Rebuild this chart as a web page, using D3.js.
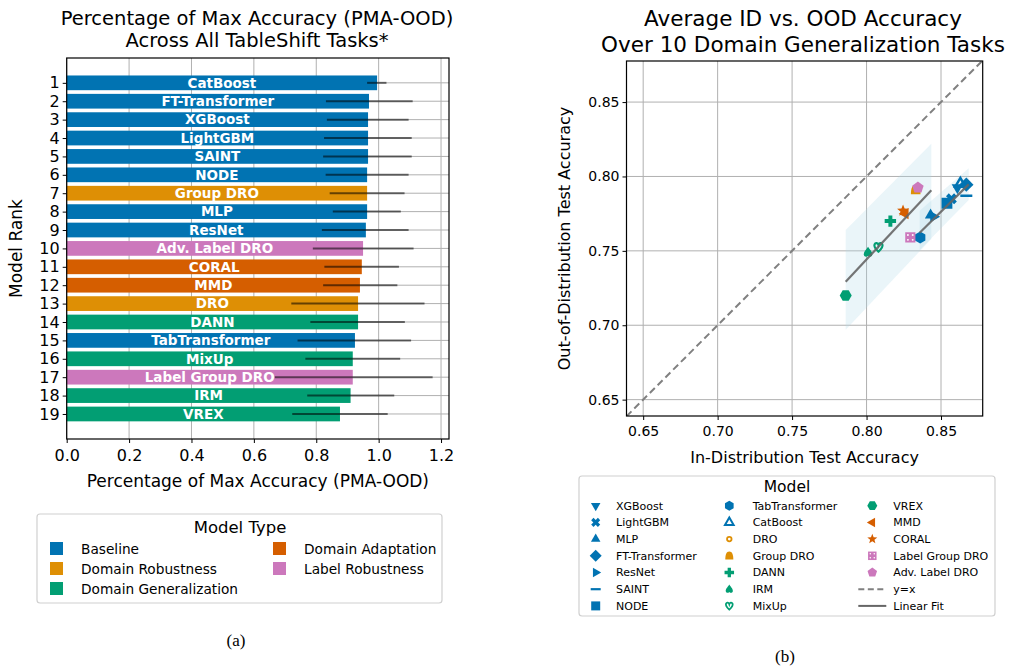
<!DOCTYPE html>
<html><head><meta charset="utf-8">
<script src="https://cdn.jsdelivr.net/npm/d3@7"></script>
<style>body{margin:0;background:#fff}svg{display:block;font-family:"DejaVu Sans",sans-serif}</style>
</head><body><svg id="c" width="1020" height="669"></svg>
<script>
// ---------- data: panel (a) ----------
const barModels = ["CatBoost","FT-Transformer","XGBoost","LightGBM","SAINT","NODE","Group DRO","MLP","ResNet","Adv. Label DRO","CORAL","MMD","DRO","DANN","TabTransformer","MixUp","Label Group DRO","IRM","VREX"];
const barTypes = ["Baseline","Baseline","Baseline","Baseline","Baseline","Baseline","Domain Robustness","Baseline","Baseline","Label Robustness","Domain Adaptation","Domain Adaptation","Domain Robustness","Domain Generalization","Baseline","Domain Generalization","Label Robustness","Domain Generalization","Domain Generalization"];
const barValues = [0.995,0.969,0.966,0.966,0.966,0.963,0.963,0.963,0.959,0.950,0.946,0.940,0.934,0.934,0.924,0.917,0.917,0.910,0.876];
const errLow  = [0.963,0.831,0.834,0.825,0.822,0.830,0.843,0.853,0.818,0.789,0.826,0.822,0.720,0.781,0.740,0.765,0.667,0.771,0.723];
const errHigh = [1.025,1.109,1.096,1.106,1.106,1.096,1.083,1.071,1.096,1.112,1.065,1.060,1.147,1.084,1.104,1.069,1.173,1.050,1.029];
const xTicksA = [0.0,0.2,0.4,0.6,0.8,1.0,1.2];
const typeNames = ["Baseline","Domain Robustness","Domain Generalization","Domain Adaptation","Label Robustness"];
const typeColors = ["#0173b2","#de8f05","#029e73","#d55e00","#cc78bc"];

// ---------- data: panel (b) ----------
const ptModels = ["XGBoost","LightGBM","MLP","FT-Transformer","ResNet","SAINT","NODE","TabTransformer","CatBoost","DRO","Group DRO","DANN","IRM","MixUp","VREX","MMD","CORAL","Label Group DRO","Adv. Label DRO"];
const ptTypes = ["Baseline","Baseline","Baseline","Baseline","Baseline","Baseline","Baseline","Baseline","Baseline","Domain Robustness","Domain Robustness","Domain Generalization","Domain Generalization","Domain Generalization","Domain Generalization","Domain Adaptation","Domain Adaptation","Label Robustness","Label Robustness"];
const ptMarkers = ["tdown","x","tup","diamond","tright","hline","square","hexp","delta","ring","bell","plus","spade","heart","hexf","tleft","star","boxdot","pentagon"];
const idAcc  = [0.861,0.857,0.843,0.867,0.845,0.867,0.854,0.836,0.863,0.833,0.833,0.816,0.801,0.808,0.786,0.826,0.8245,0.8294,0.8345];
const oodAcc = [0.7925,0.785,0.774,0.7945,0.773,0.787,0.782,0.759,0.795,0.791,0.791,0.770,0.749,0.7525,0.720,0.775,0.777,0.759,0.7925];
const fitA = {x:[0.786,0.8435], y:[0.7293,0.7907], lo:[0.697,0.758], hi:[0.764,0.822]};
const fitB = {x:[0.8357,0.8686], y:[0.7622,0.7947], lo:[0.7505,0.7842], hi:[0.777,0.8056]};
const ticksB = [0.65,0.70,0.75,0.80,0.85];

const svg = d3.select("#c");
const colorOf = d3.scaleOrdinal().domain(typeNames).range(typeColors);
const gridC = "#b0b0b0";

// ================= Panel (a) =================
const A = {l:66.7, r:449, t:58, b:439};
const xa = d3.scaleLinear().domain([0,1.2255]).range([A.l,A.r]);
const ya = d3.scaleLinear().domain([1-1.35,19+1.36]).range([A.t,A.b]);
const ga = svg.append("g");
ga.selectAll(".gv").data(xTicksA).join("line").attr("x1",d=>xa(d)).attr("x2",d=>xa(d)).attr("y1",A.t).attr("y2",A.b).attr("stroke",gridC).attr("stroke-width",1);
ga.selectAll(".gh").data(d3.range(1,20)).join("line").attr("x1",A.l).attr("x2",A.r).attr("y1",d=>ya(d)).attr("y2",d=>ya(d)).attr("stroke",gridC).attr("stroke-width",1);
const bh = ya(1.8)-ya(1);
ga.selectAll(".bar").data(barValues).join("rect")
  .attr("x",xa(0)).attr("y",(d,i)=>ya(i+1)-bh/2).attr("width",d=>xa(d)-xa(0)).attr("height",bh)
  .attr("fill",(d,i)=>colorOf(barTypes[i]));
ga.selectAll(".err").data(barValues).join("line")
  .attr("x1",(d,i)=>xa(errLow[i])).attr("x2",(d,i)=>xa(errHigh[i])).attr("y1",(d,i)=>ya(i+1)).attr("y2",(d,i)=>ya(i+1))
  .attr("stroke","#000").attr("stroke-opacity",0.55).attr("stroke-width",2);
ga.selectAll(".bl").data(barModels).join("text")
  .attr("x",(d,i)=>xa(barValues[i]/2)).attr("y",(d,i)=>ya(i+1)).attr("dy","0.36em").attr("text-anchor","middle")
  .attr("fill","#fff").attr("font-weight","bold").attr("font-size",13.5).text(d=>d);
ga.append("rect").attr("x",A.l).attr("y",A.t).attr("width",A.r-A.l).attr("height",A.b-A.t).attr("fill","none").attr("stroke","#000").attr("stroke-width",1.2);
const axA = ga.append("g").attr("transform",`translate(0,${A.b})`).call(d3.axisBottom(xa).tickValues(xTicksA).tickFormat(d3.format(".1f")).tickSize(4).tickSizeOuter(0));
axA.select(".domain").remove();
axA.selectAll("text").attr("font-size",16).attr("font-family","DejaVu Sans").attr("fill","#000").attr("dy","0.95em");
const ayA = ga.append("g").attr("transform",`translate(${A.l},0)`).call(d3.axisLeft(ya).tickValues(d3.range(1,20)).tickFormat(d3.format("d")).tickSize(4).tickSizeOuter(0));
ayA.select(".domain").remove();
ayA.selectAll("text").attr("font-size",16).attr("font-family","DejaVu Sans").attr("fill","#000");
ga.append("text").attr("x",(A.l+A.r)/2).attr("y",487).attr("text-anchor","middle").attr("font-size",17).text("Percentage of Max Accuracy (PMA-OOD)");
ga.append("text").attr("transform",`translate(22,${(A.t+A.b)/2}) rotate(-90)`).attr("text-anchor","middle").attr("font-size",17).text("Model Rank");
ga.append("text").attr("x",257).attr("y",25).attr("text-anchor","middle").attr("font-size",19.5).text("Percentage of Max Accuracy (PMA-OOD)");
ga.append("text").attr("x",257).attr("y",47).attr("text-anchor","middle").attr("font-size",19.5).text("Across All TableShift Tasks*");
// legend (a)
const la = ga.append("g");
la.append("rect").attr("x",37).attr("y",514).attr("width",405).attr("height",89).attr("rx",3).attr("fill","#fff").attr("stroke","#d0d0d0").attr("stroke-width",1.2);
la.append("text").attr("x",240).attr("y",533).attr("text-anchor","middle").attr("font-size",16.5).text("Model Type");
typeNames.forEach((t,i)=>{
  const col = i<3?0:1, row = i<3?i:i-3;
  const x0 = col?280:57, y0 = 549+row*20;
  la.append("rect").attr("x",x0-7).attr("y",y0-7).attr("width",13).attr("height",13).attr("fill",typeColors[i]);
  la.append("text").attr("x",x0+24).attr("y",y0).attr("dy","0.36em").attr("font-size",13.7).text(t);
});
svg.append("text").attr("x",236).attr("y",646).attr("text-anchor","middle").attr("font-family","Liberation Serif").attr("font-size",17).text("(a)");

// ================= Panel (b) =================
const B = {l:626.5, r:982.7, t:61, b:416};
const xb = d3.scaleLinear().domain([0.6388,0.878]).range([B.l,B.r]);
const yb = d3.scaleLinear().domain([0.639,0.8776]).range([B.b,B.t]);
const gb = svg.append("g");
gb.append("defs").append("clipPath").attr("id","clipB").append("rect").attr("x",B.l).attr("y",B.t).attr("width",B.r-B.l).attr("height",B.b-B.t);
gb.selectAll(".gv").data(ticksB).join("line").attr("x1",d=>xb(d)).attr("x2",d=>xb(d)).attr("y1",B.t).attr("y2",B.b).attr("stroke",gridC);
gb.selectAll(".gh").data(ticksB).join("line").attr("x1",B.l).attr("x2",B.r).attr("y1",d=>yb(d)).attr("y2",d=>yb(d)).attr("stroke",gridC);
const plot = gb.append("g").attr("clip-path","url(#clipB)");
plot.append("line").attr("x1",xb(0.6388)).attr("y1",yb(0.6388)).attr("x2",xb(0.878)).attr("y2",yb(0.878))
  .attr("stroke","#808080").attr("stroke-width",2).attr("stroke-dasharray","7,4");
[fitA,fitB].forEach(f=>{
  const poly = [[f.x[0],f.lo[0]],[f.x[1],f.lo[1]],[f.x[1],f.hi[1]],[f.x[0],f.hi[0]]];
  plot.append("path").attr("d",d3.line().x(d=>xb(d[0])).y(d=>yb(d[1]))(poly)+"Z").attr("fill","#add8e6").attr("fill-opacity",0.25);
});
function poly(r,n,start){const p=[];for(let k=0;k<n;k++){const a=(start+360*k/n)*Math.PI/180;p.push([r*Math.cos(a),r*Math.sin(a)]);}return "M"+p.map(q=>q[0].toFixed(2)+","+q[1].toFixed(2)).join("L")+"Z";}
function markerPath(m,s){
  const r=s/2;
  switch(m){
    case "tdown": return poly(r*1.1,3,90);
    case "tup": return poly(r*1.1,3,-90);
    case "tleft": return poly(r*1.1,3,180);
    case "tright": return poly(r*1.1,3,0);
    case "delta": return poly(r*1.0,3,-90);
    case "diamond": return poly(r*1.2,4,-90);
    case "square": return `M${-r*0.9},${-r*0.9}H${r*0.9}V${r*0.9}H${-r*0.9}Z`;
    case "boxdot": return `M${-r*0.85},${-r*0.85}H${r*0.85}V${r*0.85}H${-r*0.85}Z`;
    case "hexp": return poly(r,6,-90);
    case "hexf": return poly(r,6,0);
    case "pentagon": return poly(r,5,-90);
    case "hline": return `M${-r},${-r*0.22}H${r}V${r*0.22}H${-r}Z`;
    case "plus": case "x": {const a=r*0.33,b=r*0.95;return `M${-a},${-b}H${a}V${-a}H${b}V${a}H${a}V${b}H${-a}V${a}H${-b}V${-a}H${-a}Z`;}
    case "star": {const p=[];for(let k=0;k<10;k++){const rr=k%2?r*0.45:r*1.05;const a=(-90+36*k)*Math.PI/180;p.push([rr*Math.cos(a),rr*Math.sin(a)]);}return "M"+p.map(q=>q.join(",")).join("L")+"Z";}
    case "ring": return `M${r*0.45},0A${r*0.45},${r*0.45} 0 1,1 ${-r*0.45},0A${r*0.45},${r*0.45} 0 1,1 ${r*0.45},0Z`;
    case "bell": return `M${-r*0.8},${r*0.75}C${-r*0.8},${-r*0.2} ${-r*0.6},${-r*0.85} 0,${-r*0.85}C${r*0.6},${-r*0.85} ${r*0.8},${-r*0.2} ${r*0.8},${r*0.75}Z`;
    case "spade": return `M0,${-r*0.95}C${r*0.3},${-r*0.4} ${r*0.8},${-r*0.1} ${r*0.7},${r*0.45}C${r*0.6},${r*0.8} ${r*0.2},${r*0.8} 0,${r*0.55}C${-r*0.2},${r*0.8} ${-r*0.6},${r*0.8} ${-r*0.7},${r*0.45}C${-r*0.8},${-r*0.1} ${-r*0.3},${-r*0.4} 0,${-r*0.95}Z`;
    case "heart": return `M0,${r*0.75}C${-r*0.5},${r*0.3} ${-r*0.8},${-r*0.05} ${-r*0.65},${-r*0.45}C${-r*0.5},${-r*0.8} ${-r*0.1},${-r*0.7} 0,${-r*0.35}C${r*0.1},${-r*0.7} ${r*0.5},${-r*0.8} ${r*0.65},${-r*0.45}C${r*0.8},${-r*0.05} ${r*0.5},${r*0.3} 0,${r*0.75}Z`;
  }
}
function drawMarker(g,m,cx,cy,s,col){
  const p = g.append("path").attr("d",markerPath(m,s)).attr("transform",`translate(${cx},${cy})`+(m==="x"?" rotate(45)":""));
  if(m==="delta"){p.attr("fill","none").attr("stroke",col).attr("stroke-width",s*0.2);}
  else if(m==="ring"||m==="heart"){p.attr("fill","none").attr("stroke",col).attr("stroke-width",s*0.18);}
  else p.attr("fill",col);
  if(m==="boxdot"){[[-1,-1],[1,-1],[-1,1],[1,1]].forEach(d=>g.append("circle").attr("cx",cx+d[0]*s*0.2).attr("cy",cy+d[1]*s*0.2).attr("r",s*0.08).attr("fill","#fff"));}
}
ptModels.forEach((m,i)=>drawMarker(plot,ptMarkers[i],xb(idAcc[i]),yb(oodAcc[i]),12,colorOf(ptTypes[i])));
[fitA,fitB].forEach(f=>{
  plot.append("line").attr("x1",xb(f.x[0])).attr("y1",yb(f.y[0])).attr("x2",xb(f.x[1])).attr("y2",yb(f.y[1])).attr("stroke","#666").attr("stroke-opacity",0.9).attr("stroke-width",2.2);
});
gb.append("rect").attr("x",B.l).attr("y",B.t).attr("width",B.r-B.l).attr("height",B.b-B.t).attr("fill","none").attr("stroke","#000").attr("stroke-width",1.2);
const axB = gb.append("g").attr("transform",`translate(0,${B.b})`).call(d3.axisBottom(xb).tickValues(ticksB).tickFormat(d3.format(".2f")).tickSize(4).tickSizeOuter(0));
axB.select(".domain").remove();
axB.selectAll("text").attr("font-size",14).attr("font-family","DejaVu Sans").attr("fill","#000").attr("dy","0.95em");
const ayB = gb.append("g").attr("transform",`translate(${B.l},0)`).call(d3.axisLeft(yb).tickValues(ticksB).tickFormat(d3.format(".2f")).tickSize(4).tickSizeOuter(0));
ayB.select(".domain").remove();
ayB.selectAll("text").attr("font-size",14).attr("font-family","DejaVu Sans").attr("fill","#000");
gb.append("text").attr("x",(B.l+B.r)/2).attr("y",463).attr("text-anchor","middle").attr("font-size",16).text("In-Distribution Test Accuracy");
gb.append("text").attr("transform",`translate(570,${(B.t+B.b)/2}) rotate(-90)`).attr("text-anchor","middle").attr("font-size",16).text("Out-of-Distribution Test Accuracy");
gb.append("text").attr("x",803).attr("y",26).attr("text-anchor","middle").attr("font-size",21.5).text("Average ID vs. OOD Accuracy");
gb.append("text").attr("x",803).attr("y",52).attr("text-anchor","middle").attr("font-size",21.5).text("Over 10 Domain Generalization Tasks");
// legend (b)
const lb = gb.append("g");
lb.append("rect").attr("x",579).attr("y",476).attr("width",416).attr("height",140).attr("rx",3).attr("fill","#fff").attr("stroke","#d0d0d0").attr("stroke-width",1.2);
lb.append("text").attr("x",787).attr("y",492).attr("text-anchor","middle").attr("font-size",15.5).text("Model");
const legItems = ptModels.map((m,i)=>({label:m,marker:ptMarkers[i],col:colorOf(ptTypes[i])})).concat([{label:"y=x",line:"dash"},{label:"Linear Fit",line:"solid"}]);
const colX = [595.7,729.3,872.3], labX=[616,752.7,893.3];
legItems.forEach((it,i)=>{
  const c=Math.floor(i/7), r=i%7, y=505.7+r*16.7;
  if(it.line){lb.append("line").attr("x1",colX[c]-14).attr("x2",colX[c]+14).attr("y1",y).attr("y2",y).attr("stroke",it.line==="dash"?"#808080":"#666").attr("stroke-width",2).attr("stroke-dasharray",it.line==="dash"?"6,3.5":null);}
  else drawMarker(lb,it.marker,colX[c],y,10,it.col);
  lb.append("text").attr("x",labX[c]).attr("y",y).attr("dy","0.36em").attr("font-size",11).text(it.label);
});
svg.append("text").attr("x",785).attr("y",662).attr("text-anchor","middle").attr("font-family","Liberation Serif").attr("font-size",17).text("(b)");
</script></body></html>
